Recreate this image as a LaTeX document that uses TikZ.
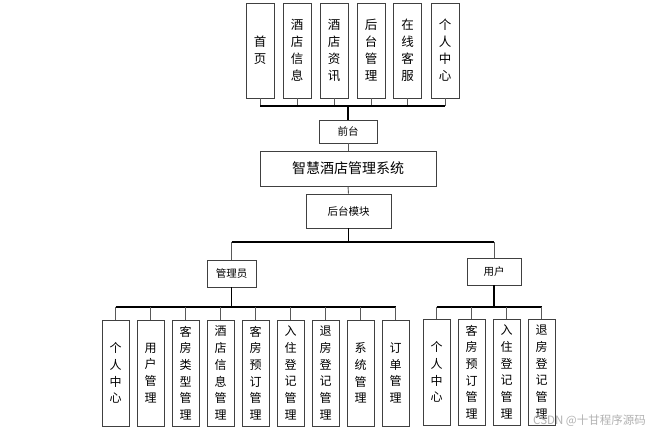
\documentclass[tikz,border=0pt]{standalone}
\usepackage{fontspec}
\newfontfamily\cjk{Noto Sans CJK SC}
\begin{document}
\begin{tikzpicture}[x=1pt,y=1pt,
  box/.style={draw=black!75, line width=0.9pt, fill=white, inner sep=0pt, align=center},
  topv/.style={box, minimum width=28pt, minimum height=95pt, font=\cjk\fontsize{12.5}{17}\selectfont},
  botv/.style={box, minimum width=27pt, minimum height=106pt, font=\cjk\fontsize{12}{16.7}\selectfont},
  small/.style={box, font=\cjk\fontsize{10.5}{12}\selectfont},
  branch/.style={draw=black!65, line width=0.9pt},
  trunk/.style={draw=black, line width=1.2pt}]
\useasboundingbox (0,0) rectangle (653,-436);
\fill[white] (0,0) rectangle (653,-436);
% top modules
\node[topv] (t1) at (260,-50.5) {首\\页};
\node[topv] (t2) at (297,-50.5) {酒\\店\\信\\息};
\node[topv] (t3) at (334,-50.5) {酒\\店\\资\\讯};
\node[topv] (t4) at (371,-50.5) {后\\台\\管\\理};
\node[topv] (t5) at (407.5,-50.5) {在\\线\\客\\服};
\node[topv] (t6) at (445,-50.5) {个\\人\\中\\心};
\coordinate (busT) at (348,-106);
\node[small, minimum width=58pt, minimum height=23pt] (qt) at (348,-131.5) {前台};
\node[box, minimum width=176pt, minimum height=35pt, font=\cjk\fontsize{14}{16}\selectfont] (sys) at (348,-168.5) {智慧酒店管理系统};
\node[small, minimum width=85pt, minimum height=34pt] (ht) at (348.5,-211) {后台模块};
\coordinate (busM) at (348.5,-242);
\node[small, minimum width=49pt, minimum height=27pt] (gly) at (231.5,-273.5) {管理员};
\node[small, minimum width=54pt, minimum height=27pt] (yh) at (494,-271.5) {用户};
\coordinate (busL) at (231.5,-307);
\coordinate (busR) at (494,-307);
% admin modules
\node[botv] (a1) at (115.5,-373) {个\\人\\中\\心};
\node[botv] (a2) at (150.5,-373) {用\\户\\管\\理};
\node[botv] (a3) at (185.5,-373) {客\\房\\类\\型\\管\\理};
\node[botv] (a4) at (220.5,-373) {酒\\店\\信\\息\\管\\理};
\node[botv] (a5) at (255.5,-373) {客\\房\\预\\订\\管\\理};
\node[botv] (a6) at (290.5,-373) {入\\住\\登\\记\\管\\理};
\node[botv] (a7) at (325.5,-373) {退\\房\\登\\记\\管\\理};
\node[botv] (a8) at (360.5,-373) {系\\统\\管\\理};
\node[botv] (a9) at (395.5,-373) {订\\单\\管\\理};
% user modules
\node[botv] (u1) at (436.5,-372) {个\\人\\中\\心};
\node[botv] (u2) at (471.5,-372) {客\\房\\预\\订\\管\\理};
\node[botv] (u3) at (506.5,-372) {入\\住\\登\\记\\管\\理};
\node[botv] (u4) at (541.5,-372) {退\\房\\登\\记\\管\\理};
% connectors top
\foreach \n in {t1,t2,t3,t4,t5,t6} \draw[branch] (\n.south) -- (\n.south |- busT);
\draw[trunk] (t1.south |- busT) -- (t6.south |- busT);
\draw[trunk] (busT) -- (qt.north);
\draw[branch] (qt.south) -- (sys.north);
\draw[branch] (sys.south) -- (ht.north);
\draw[trunk] (ht.south) -- (busM);
\draw[trunk] (gly.north |- busM) -- (yh.north |- busM);
\draw[branch] (gly.north |- busM) -- (gly.north);
\draw[branch] (yh.north |- busM) -- (yh.north);
% admin branch
\draw[trunk] (gly.south) -- (busL);
\draw[trunk] (a1.north |- busL) -- (a9.north |- busL);
\foreach \n in {a1,a2,a3,a4,a5,a6,a7,a8,a9} \draw[branch] (\n.north |- busL) -- (\n.north);
% user branch
\draw[trunk] (yh.south) -- (busR);
\draw[trunk] (u1.north |- busR) -- (u4.north |- busR);
\foreach \n in {u1,u2,u3,u4} \draw[branch] (\n.north |- busR) -- (\n.north);
% watermark
\node[text=black!30, font=\cjk\fontsize{11.5}{13}\selectfont, anchor=east, inner sep=0pt] (wm) at (646,-421) {CSDN @十甘程序源码};
\end{tikzpicture}
\end{document}
